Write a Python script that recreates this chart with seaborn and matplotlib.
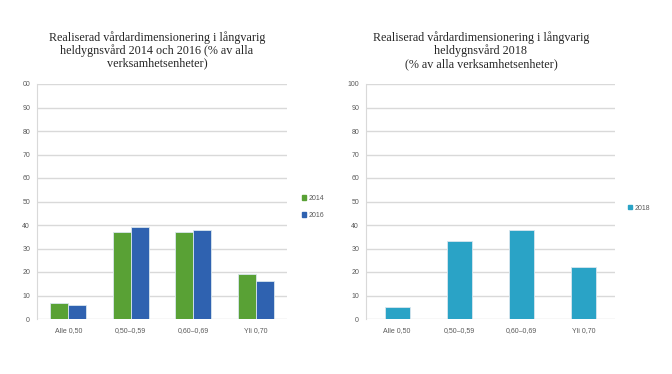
import pandas as pd
import seaborn as sns
import matplotlib.pyplot as plt
from matplotlib.patches import Patch

# data
categories = ["Alle 0,50", "0,50\u20130,59", "0,60\u20130,69", "Yli 0,70"]
values_2014 = [7, 37, 37, 19]
values_2016 = [6, 39, 38, 16]
values_2018 = [5, 33, 38, 22]
y_ticks = [0, 10, 20, 30, 40, 50, 60, 70, 80, 90, 100]
left_ytick_labels = ["0", "10", "20", "30", "40", "50", "60", "70", "80", "90", "00"]

title_left = "Realiserad vårdardimensionering i långvarig\nheldygnsvård 2014 och 2016 (% av alla\nverksamhetsenheter)"
title_right = "Realiserad vårdardimensionering i långvarig\nheldygnsvård 2018\n(% av alla verksamhetsenheter)"

colors = {"2014": "#59a135", "2016": "#2f62b0", "2018": "#2aa3c6"}

df_left = pd.DataFrame({
    "kategori": categories * 2,
    "ar": ["2014"] * 4 + ["2016"] * 4,
    "andel": values_2014 + values_2016,
})
df_right = pd.DataFrame({"kategori": categories, "ar": ["2018"] * 4, "andel": values_2018})

sns.set_style("white")
plt.rcParams["font.family"] = ["Liberation Sans", "DejaVu Sans"]

W, H = 672, 374
fig = plt.figure(figsize=(W / 100, H / 100), dpi=100)
fig.patch.set_facecolor("white")


def px_axes(x0, x1, ytop, ybot):
    return fig.add_axes([x0 / W, 1 - ybot / H, (x1 - x0) / W, (ybot - ytop) / H])


ax1 = px_axes(37, 287, 84, 319)
ax2 = px_axes(366, 615, 84, 319)

sns.barplot(data=df_left, x="kategori", y="andel", hue="ar", palette=colors,
            width=0.58, saturation=1, edgecolor="#d9e6ee", linewidth=0.6,
            ax=ax1, legend=False)
sns.barplot(data=df_right, x="kategori", y="andel", hue="ar", palette=colors,
            width=0.4, saturation=1, edgecolor="#d9e6ee", linewidth=0.6,
            ax=ax2, legend=False)

for ax, labels in [(ax1, left_ytick_labels), (ax2, [str(t) for t in y_ticks])]:
    ax.set_ylim(0, 100)
    ax.set_yticks(y_ticks)
    ax.set_yticklabels(labels)
    ax.set_xlabel("")
    ax.set_ylabel("")
    ax.grid(axis="y", color="#d9d9d9", linewidth=1.0)
    ax.set_axisbelow(True)
    for s in ["top", "right", "bottom"]:
        ax.spines[s].set_visible(False)
    ax.spines["left"].set_color("#d9d9d9")
    ax.spines["left"].set_linewidth(0.8)
    ax.tick_params(axis="both", length=0, labelsize=5, labelcolor="#595959")
    ax.tick_params(axis="y", pad=5)
    ax.tick_params(axis="x", pad=6)

fig.text(157 / W, 1 - 50 / H, title_left, ha="center", va="center",
         family=["Liberation Serif"], fontsize=8.7, linespacing=1.05)
fig.text(481 / W, 1 - 50.5 / H, title_right, ha="center", va="center",
         family=["Liberation Serif"], fontsize=8.7, linespacing=1.1)

leg_kw = dict(frameon=False, fontsize=5, handlelength=0.6, handleheight=0.6,
              handletextpad=0.4, labelcolor="#595959", borderaxespad=0)
fig.legend(handles=[Patch(color=colors["2014"], label="2014"),
                    Patch(color=colors["2016"], label="2016")],
           loc="center left", bbox_to_anchor=(299 / W, 1 - 207 / H),
           labelspacing=1.4, **leg_kw)
fig.legend(handles=[Patch(color=colors["2018"], label="2018")],
           loc="center left", bbox_to_anchor=(625 / W, 1 - 208 / H), **leg_kw)

fig.savefig("out.png", dpi=100, facecolor="white")
